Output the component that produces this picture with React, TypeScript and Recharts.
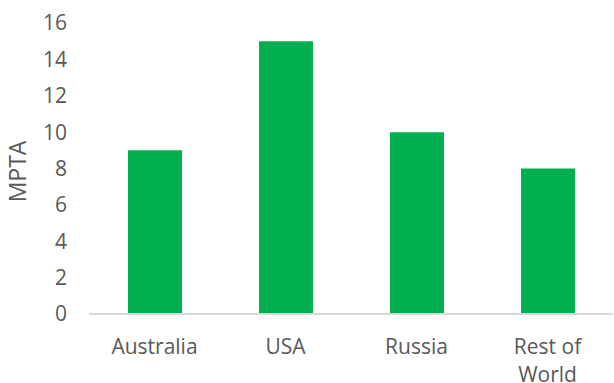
import React from 'react';
import { BarChart, Bar, XAxis, YAxis } from 'recharts';

const categories = ['Australia', 'USA', 'Russia', 'Rest of World'];
const values = [9, 15, 10, 8];
const yTicks = [0, 2, 4, 6, 8, 10, 12, 14, 16];

const data = categories.map((c, i) => ({ name: c, value: values[i] }));

const FONT = '"Open Sans", sans-serif';
const TEXT = '#595959';

const XTick = (props: any) => {
  const { x, y, payload } = props;
  const label: string = payload.value;
  const lines = label === 'Rest of World' ? ['Rest of', 'World'] : [label];
  return (
    <g transform={`translate(${x},${y})`}>
      {lines.map((l, i) => (
        <text key={i} x={0} y={0} dy={32 + i * 28} textAnchor="middle" fill={TEXT} fontSize={21} fontFamily={FONT}>
          {l}
        </text>
      ))}
    </g>
  );
};

const YLabel = (props: any) => {
  const { viewBox } = props;
  const cy = viewBox.y + viewBox.height / 2 + 3;
  return (
    <text x={26} y={cy} transform={`rotate(-90, 26, ${cy})`} textAnchor="middle" fill={TEXT} fontSize={23} fontFamily={FONT}>
      MPTA
    </text>
  );
};

export default function App() {
  return (
    <div style={{ position: 'absolute', left: 0, top: 0, background: '#fff' }}>
      <BarChart width={614} height={383} data={data} margin={{ top: 23, right: 1, bottom: 0, left: 0 }}>
        <XAxis
          dataKey="name"
          tick={<XTick />}
          tickLine={false}
          axisLine={{ stroke: '#d9d9d9', strokeWidth: 2 }}
          height={69}
          interval={0}
        />
        <YAxis
          domain={[0, 16]}
          ticks={yTicks}
          width={89}
          axisLine={false}
          tickLine={false}
          tickSize={0}
          tickMargin={22}
          tick={{ fill: TEXT, fontSize: 21, fontFamily: FONT }}
          label={<YLabel />}
        />
        <Bar dataKey="value" fill="#00b050" barSize={54} isAnimationActive={false} />
      </BarChart>
    </div>
  );
}
